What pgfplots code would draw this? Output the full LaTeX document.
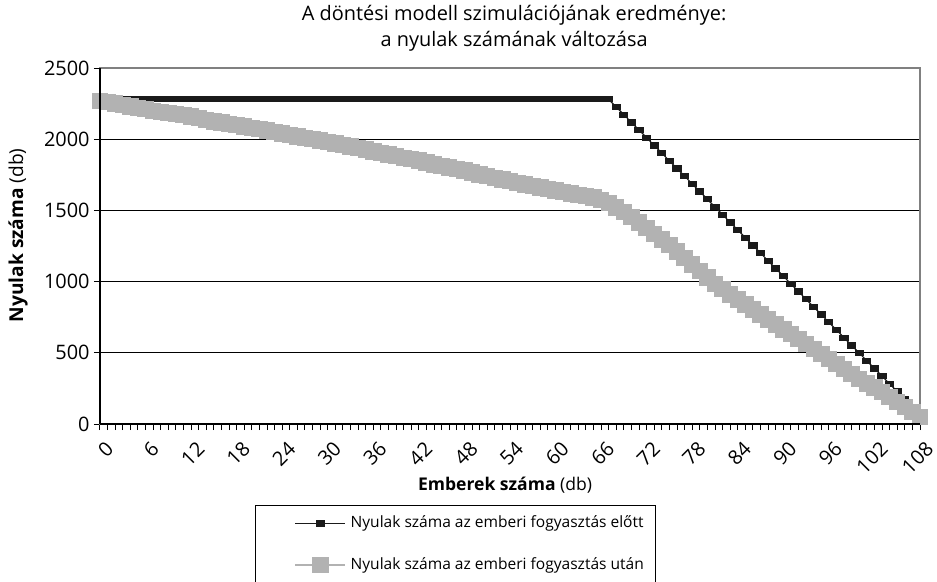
\documentclass[border=0pt]{standalone}
\usepackage{pgfplots}
\pgfplotsset{compat=1.18}
\usepackage{pgfplotstable}
\usepackage{fontspec}
\setmainfont{Open Sans}
\definecolor{sergray}{RGB}{178,178,178}
\definecolor{serblack}{RGB}{26,26,26}
\definecolor{framegray}{RGB}{128,128,128}

\pgfplotstableread{
x y
0 2280
1 2280
2 2280
3 2280
4 2280
5 2280
6 2280
7 2280
8 2280
9 2280
10 2280
11 2280
12 2280
13 2280
14 2280
15 2280
16 2280
17 2280
18 2280
19 2280
20 2280
21 2280
22 2280
23 2280
24 2280
25 2280
26 2280
27 2280
28 2280
29 2280
30 2280
31 2280
32 2280
33 2280
34 2280
35 2280
36 2280
37 2280
38 2280
39 2280
40 2280
41 2280
42 2280
43 2280
44 2280
45 2280
46 2280
47 2280
48 2280
49 2280
50 2280
51 2280
52 2280
53 2280
54 2280
55 2280
56 2280
57 2280
58 2280
59 2280
60 2280
61 2280
62 2280
63 2280
64 2280
65 2280
66 2280
67 2280
68 2226
69 2172
70 2118
71 2064
72 2010
73 1956
74 1902
75 1848
76 1794
77 1740
78 1686
79 1632
80 1578
81 1524
82 1470
83 1416
84 1362
85 1308
86 1254
87 1200
88 1146
89 1092
90 1038
91 984
92 930
93 876
94 822
95 768
96 714
97 660
98 606
99 552
100 498
101 444
102 390
103 336
104 282
105 228
106 174
107 120
108 66
}\before

\pgfplotstableread{
x y
0 2270
1 2260
2 2250
3 2240
4 2230
5 2220
6 2210
7 2200
8 2192
9 2185
10 2177
11 2168
12 2160
13 2148
14 2136
15 2125
16 2117
17 2108
18 2100
19 2090
20 2080
21 2070
22 2060
23 2050
24 2040
25 2030
26 2020
27 2010
28 2000
29 1990
30 1980
31 1970
32 1960
33 1950
34 1938
35 1927
36 1915
37 1903
38 1892
39 1880
40 1870
41 1860
42 1850
43 1837
44 1823
45 1810
46 1800
47 1790
48 1780
49 1767
50 1753
51 1740
52 1728
53 1717
54 1705
55 1693
56 1682
57 1670
58 1660
59 1650
60 1640
61 1630
62 1620
63 1610
64 1600
65 1590
66 1575
67 1550
68 1520
69 1490
70 1455
71 1415
72 1375
73 1335
74 1295
75 1255
76 1210
77 1165
78 1120
79 1075
80 1030
81 985
82 950
83 910
84 875
85 840
86 805
87 770
88 735
89 700
90 665
91 630
92 595
93 560
94 525
95 490
96 455
97 420
98 385
99 350
100 315
101 285
102 255
103 225
104 190
105 155
106 120
107 85
108 50
}\after

\begin{document}
\begin{tikzpicture}
\useasboundingbox (-50bp,-79bp) rectangle (418.5bp,212bp);
\begin{axis}[
  scale only axis, width=410bp, height=178bp,
  at={(0,0)}, anchor=south west,
  xmin=0, xmax=108, ymin=0, ymax=2500,
  xtick={0,6,...,108}, minor x tick num=5,
  ytick={0,500,...,2500},
  ymajorgrids,
  major grid style={black, line width=0.5bp},
  axis line style={draw=framegray, line width=0.6bp},
  tick align=outside, tick pos=left,
  major tick length=3bp, minor tick length=3bp,
  every tick/.style={black, line width=0.5bp},
  /pgf/number format/assume math mode=true,
  /pgf/number format/set thousands separator={},
  ticklabel style={font=\fontsize{10}{12}\selectfont},
  xticklabel style={rotate=45, anchor=east, inner sep=1bp, xshift=-1bp, yshift=-9bp},
  yticklabel style={inner sep=1bp, xshift=-1bp},
  title={A döntési modell szimulációjának eredménye:\\a nyulak számának változása},
  title style={align=center, font=\fontsize{10}{13}\selectfont, at={(axis description cs:0.505,1)}, anchor=south, inner sep=0pt, yshift=2bp},
  xlabel={\textbf{Emberek száma} (db)},
  xlabel style={at={(axis description cs:0.494,-0.171)}, anchor=center, font=\fontsize{8.8}{11}\selectfont},
  ylabel={\textbf{Nyulak száma} (db)},
  ylabel style={at={(axis description cs:-0.1,0.53)}, anchor=center, rotate=0, font=\fontsize{9.6}{11}\selectfont},
  legend style={at={(axis description cs:0.189,-0.2275)}, anchor=north west,
    draw=black, line width=0.5bp, inner xsep=4bp, inner ysep=3.2bp,
    font=\fontsize{7.8}{9.5}\selectfont, row sep=9.3bp,
    nodes={inner sep=2bp}},
  legend cell align=left,
  legend image code/.code={%
    \path[draw=none] (0bp,0bp) -- (40bp,0bp);
    \draw[mark repeat=2, mark phase=2] plot coordinates {(16bp,0bp) (28.5bp,0bp) (41bp,0bp)};},
  after end axis/.code={
    \draw[black, line width=0.7bp] (rel axis cs:0,0) -- (rel axis cs:0,1);
    \draw[black, line width=0.7bp] (rel axis cs:0,0) -- (rel axis cs:1,0);
  },
  clip=false,
]
\addplot[serblack, line width=0.6bp, mark=square*, mark size=1.6bp,
  mark options={fill=serblack, draw=none, xscale=1.25, yscale=0.8}] table[x=x, y=y] {\before};
\addlegendentry{Nyulak száma az emberi fogyasztás előtt}
\addplot[sergray, line width=1.2bp, mark=square*, mark size=3.5bp,
  mark options={fill=sergray, draw=none}] table[x=x, y=y] {\after};
\addlegendentry{Nyulak száma az emberi fogyasztás után}
\end{axis}
\end{tikzpicture}
\end{document}
